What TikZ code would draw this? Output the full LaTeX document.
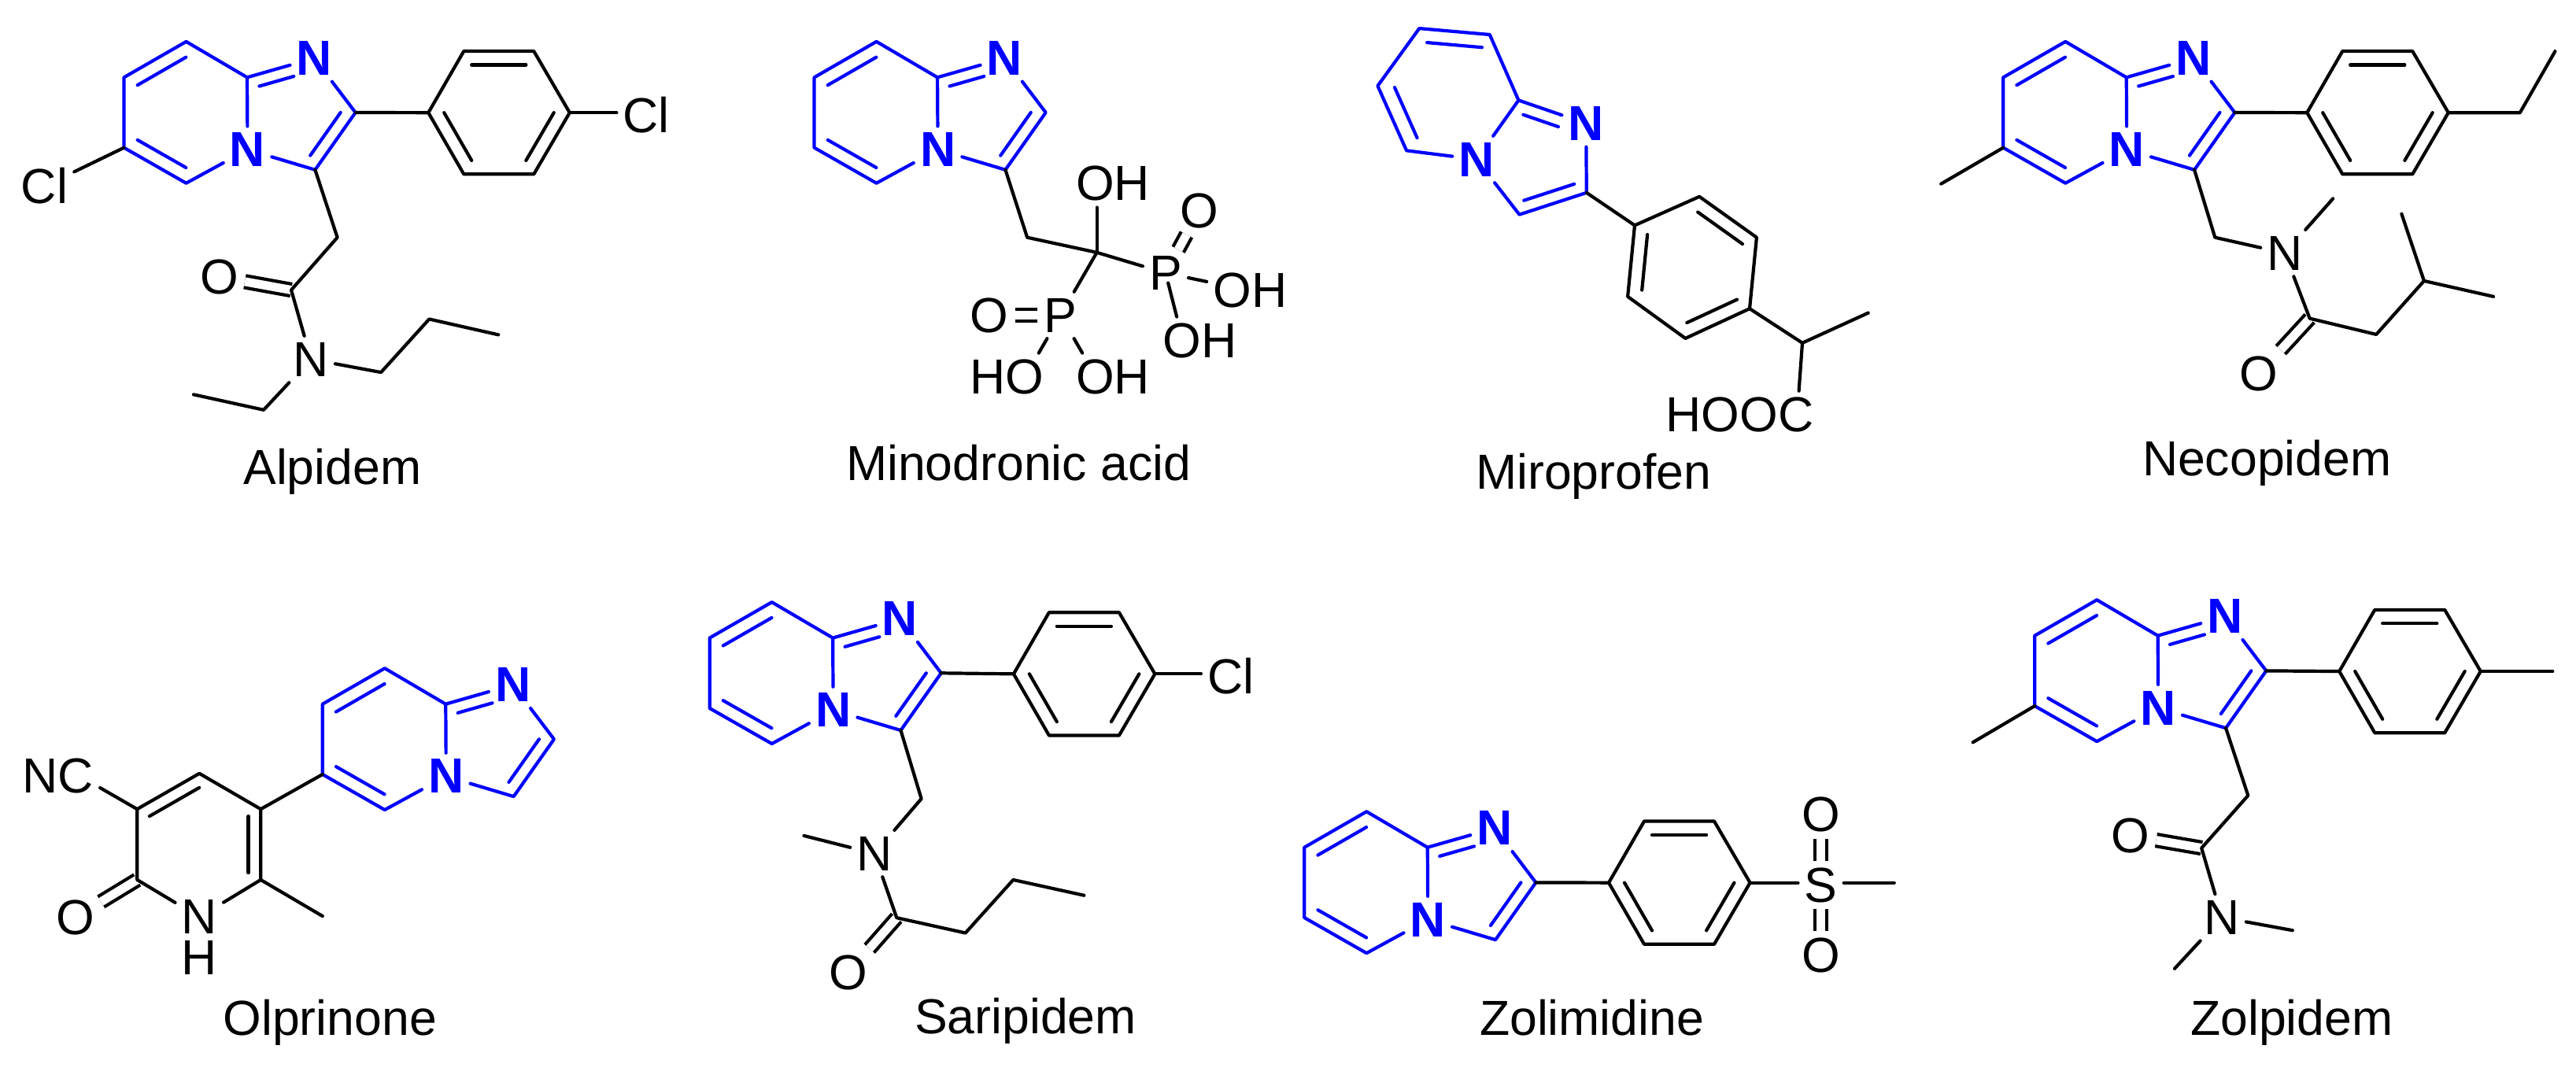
\documentclass[tikz,border=0pt]{standalone}
\usepackage{fontspec}
\setmainfont{Liberation Sans}
\usetikzlibrary{calc}
\newcommand{\imidazo}[3]{%
\begin{scope}[shift={(#2,#3)},x=.00523cm,y=-.00414cm]
\coordinate (#1_c5) at (-148,-110);
\coordinate (#1_c6) at (-299,0);
\coordinate (#1_c7) at (-299,216);
\coordinate (#1_c8) at (-148,325);
\coordinate (#1_c9) at (0,0);
\coordinate (#1_c2) at (263,108);
\coordinate (#1_c3) at (165,284);
\coordinate (#1_py) at (-150,108);
\coordinate (#1_im) at (118,108);
\node[hetero] (#1_n1) at (163,-59) {N};
\node[hetero] (#1_n4) at (1,222) {N};
\draw[corebond] (#1_c9) -- (#1_c5) -- (#1_c6) -- (#1_c7) -- (#1_c8) -- (#1_n4) -- (#1_c9) -- (#1_n1) -- (#1_c2) -- (#1_c3) -- (#1_n4);
\draw[corebond] ($(#1_c5)!.22!(#1_py)$) -- ($(#1_c6)!.22!(#1_py)$);
\draw[corebond] ($(#1_c7)!.22!(#1_py)$) -- ($(#1_c8)!.22!(#1_py)$);
\draw[corebond] ($(#1_c2)!.25!(#1_im)$) -- ($(#1_c3)!.25!(#1_im)$);
\draw[corebond,shorten >=.21cm] ($(#1_c9)!.25!(#1_im)$) -- ($(#1_n1)!.25!(#1_im)$);
\end{scope}}
\newcommand{\phenyl}[3]{%
\begin{scope}[shift={(#2,#3)},x=.00523cm,y=-.00414cm]
\coordinate (#1_p1) at (-171,0);
\coordinate (#1_p2) at (-85,-189);
\coordinate (#1_p3) at (85,-189);
\coordinate (#1_p4) at (172,0);
\coordinate (#1_p5) at (85,189);
\coordinate (#1_p6) at (-85,189);
\coordinate (#1_pc) at (0,0);
\draw[bond] (#1_p1) -- (#1_p2) -- (#1_p3) -- (#1_p4) -- (#1_p5) -- (#1_p6) -- cycle;
\draw[bond] ($(#1_p2)!.223!(#1_pc)$) -- ($(#1_p3)!.223!(#1_pc)$);
\draw[bond] ($(#1_p1)!.223!(#1_pc)$) -- ($(#1_p6)!.223!(#1_pc)$);
\draw[bond] ($(#1_p4)!.223!(#1_pc)$) -- ($(#1_p5)!.223!(#1_pc)$);
\end{scope}}

\begin{document}
\begin{tikzpicture}
\tikzstyle{bond}=[line width=.042cm, line cap=round, line join=round, black]
\tikzstyle{corebond}=[bond, draw=blue]
\tikzstyle{dbl}=[line width=.042cm, black, double, double distance=.11cm]
\tikzstyle{atom}=[inner sep=.075cm, font=\fontsize{17.8}{21}\selectfont]
\tikzstyle{hetero}=[atom, text=blue, font=\fontsize{17.8}{21}\selectfont\bfseries]
\tikzstyle{drugname}=[anchor=base, inner sep=0pt, font=\fontsize{17.8}{21}\selectfont]
\tikzstyle{crop}=[x=.00523cm, y=-.004146cm]
\tikzstyle{cropb}=[x=.00523cm, y=-.00412cm]
\tikzstyle{cropr}=[x=.005184cm, y=-.004146cm]
\tikzstyle{cropbr}=[x=.005184cm, y=-.00412cm]
\useasboundingbox (0,0) rectangle (32.73,-13.66);

% top row
\begin{scope}[crop]
\imidazo{al}{600}{237}
\phenyl{al}{1211}{345}
\node[atom] (al_cl1) at (108,570) {Cl};
\node[atom] (al_cl2) at (1569,352) {Cl};
\node[atom] (al_o) at (532,848) {O};
\node[atom] (al_n) at (755,1100) {N};
\coordinate (al_a) at (819,727);
\coordinate (al_b) at (707,888);
\coordinate (al_d) at (925,1140);
\coordinate (al_e) at (1042,977);
\coordinate (al_f) at (1210,1025);
\coordinate (al_g) at (640,1255);
\coordinate (al_h) at (470,1208);
\draw[dbl] (al_b) -- (al_o);
\draw[bond] (al_c3) -- (al_a) -- (al_b) -- (al_n) -- (al_d) -- (al_e) -- (al_f);
\draw[bond] (al_n) -- (al_g) -- (al_h);
\draw[bond] (al_c2) -- (al_p1);
\draw[bond] (al_p4) -- (al_p4 -| al_cl2.west);
\draw[bond] (al_c7) -- (al_cl1);
\node[drugname] (al_name) at (807,1483) {Alpidem};
\end{scope}

\begin{scope}[crop,xshift=8.2cm]
\imidazo{mi}{709}{237}
\node[atom] (mi_oh1) at (1135,562) {OH};
\node[atom] (mi_p1) at (1263,836) {P};
\node[atom] (mi_p2) at (1008,965) {P};
\node[atom] (mi_o1) at (1345,645) {O};
\node[atom] (mi_o2) at (835,965) {O};
\node[atom] (mi_oh2) at (1468,890) {OH};
\node[atom] (mi_oh3) at (1346,1043) {OH};
\node[atom] (mi_ho) at (878,1154) {HO};
\node[atom] (mi_oh4) at (1135,1154) {OH};
\coordinate (mi_a) at (927,727);
\coordinate (mi_b) at (1096,773);
\draw[dbl] (mi_p1) -- (mi_o1);
\draw[dbl] (mi_p2) -- (mi_o2);
\draw[bond] (mi_c3) -- (mi_a) -- (mi_b) -- (mi_p1);
\draw[bond] (mi_b) -- (mi_p2);
\draw[bond] (mi_b) -- (mi_b |- mi_oh1.south);
\draw[bond] (mi_p1) -- (mi_oh2);
\draw[bond,shorten <=.13cm] (mi_p1.center) -- (mi_oh3.134);
\draw[bond] (mi_p2) -- (mi_ho.37);
\draw[bond] (mi_p2) -- (mi_oh4.142);
\node[drugname] (mi_name) at (906,1472) {Minodronic acid};
\end{scope}

\begin{scope}[crop,xshift=16.4cm]
\coordinate (mr_c5) at (312,87);
\coordinate (mr_c6) at (483,106);
\coordinate (mr_c7) at (211,263);
\coordinate (mr_c8) at (281,461);
\coordinate (mr_c9) at (553,307);
\coordinate (mr_c2) at (718,590);
\coordinate (mr_c3) at (555,657);
\coordinate (mr_py) at (398,284);
\coordinate (mr_im) at (599,484);
\node[hetero] (mr_n1) at (717,378) {N};
\node[hetero] (mr_n4) at (451,488) {N};
\draw[corebond] (mr_c9) -- (mr_c6) -- (mr_c5) -- (mr_c7) -- (mr_c8) -- (mr_n4) -- (mr_c9) -- (mr_n1) -- (mr_c2) -- (mr_c3) -- (mr_n4);
\draw[corebond] ($(mr_c6)!.22!(mr_py)$) -- ($(mr_c5)!.22!(mr_py)$);
\draw[corebond] ($(mr_c7)!.22!(mr_py)$) -- ($(mr_c8)!.22!(mr_py)$);
\draw[corebond] ($(mr_c2)!.25!(mr_im)$) -- ($(mr_c3)!.25!(mr_im)$);
\draw[corebond,shorten >=.21cm] ($(mr_c9)!.25!(mr_im)$) -- ($(mr_n1)!.25!(mr_im)$);
\coordinate (mr_p1) at (835,690);
\coordinate (mr_p2) at (992,602);
\coordinate (mr_p3) at (1131,727);
\coordinate (mr_p4) at (1114,945);
\coordinate (mr_p5) at (958,1036);
\coordinate (mr_p6) at (818,908);
\coordinate (mr_pc) at (975,818);
\draw[bond] (mr_p1) -- (mr_p2) -- (mr_p3) -- (mr_p4) -- (mr_p5) -- (mr_p6) -- cycle;
\draw[bond] ($(mr_p2)!.22!(mr_pc)$) -- ($(mr_p3)!.22!(mr_pc)$);
\draw[bond] ($(mr_p1)!.22!(mr_pc)$) -- ($(mr_p6)!.22!(mr_pc)$);
\draw[bond] ($(mr_p4)!.22!(mr_pc)$) -- ($(mr_p5)!.22!(mr_pc)$);
\node[atom] (mr_hooc) at (1090,1270) {HOOC};
\coordinate (mr_a) at (1242,1050);
\coordinate (mr_b) at (1402,958);
\draw[bond] (mr_c2) -- (mr_p1);
\draw[bond] (mr_p4) -- (mr_a) -- (mr_b);
\draw[bond] (mr_a) -- (mr_hooc.22);
\node[drugname] (mr_name) at (735,1497) {Miroprofen};
\end{scope}

\begin{scope}[cropr,xshift=24.6cm]
\imidazo{ne}{466}{237}
\phenyl{ne}{1081}{345}
\node[atom] (ne_n) at (854,775) {N};
\node[atom] (ne_o) at (790,1145) {O};
\coordinate (ne_me) at (12,563);
\coordinate (ne_a) at (1430,345);
\coordinate (ne_b) at (1516,157);
\coordinate (ne_c) at (683,727);
\coordinate (ne_d) at (972,608);
\coordinate (ne_e) at (915,975);
\coordinate (ne_f) at (1078,1024);
\coordinate (ne_g) at (1195,860);
\coordinate (ne_h) at (1365,908);
\coordinate (ne_i) at (1140,655);
\draw[dbl] (ne_e) -- (ne_o);
\draw[bond] (ne_c7) -- (ne_me);
\draw[bond] (ne_c2) -- (ne_p1);
\draw[bond] (ne_p4) -- (ne_a) -- (ne_b);
\draw[bond] (ne_c3) -- (ne_c) -- (ne_n) -- (ne_d);
\draw[bond] (ne_n) -- (ne_e) -- (ne_f) -- (ne_g) -- (ne_h);
\draw[bond] (ne_g) -- (ne_i);
\node[drugname] (ne_name) at (810,1457) {Necopidem};
\end{scope}

% bottom row
\begin{scope}[cropb,yshift=-7.2cm]
\imidazo{ol}{1082}{424}
\coordinate (ol_r1) at (633,748);
\coordinate (ol_r2) at (484,638);
\coordinate (ol_r3) at (333,748);
\coordinate (ol_r4) at (333,966);
\coordinate (ol_r6) at (633,966);
\coordinate (ol_rc) at (483,857);
\coordinate (ol_me) at (783,1078);
\node[atom] (ol_n) at (484,1081) {N};
\node[atom] (ol_h) at (484,1207) {H};
\node[atom] (ol_nc) at (141,645) {NC};
\node[atom] (ol_o) at (183,1082) {O};
\draw[dbl] (ol_r4) -- (ol_o);
\draw[bond] (ol_r6) -- (ol_r1) -- (ol_r2) -- (ol_r3) -- (ol_r4) -- (ol_n) -- (ol_r6);
\draw[bond] ($(ol_r2)!.2!(ol_rc)$) -- ($(ol_r3)!.2!(ol_rc)$);
\draw[bond] ($(ol_r1)!.2!(ol_rc)$) -- ($(ol_r6)!.2!(ol_rc)$);
\draw[bond] (ol_r3) -- (ol_nc.344);
\draw[bond] (ol_r6) -- (ol_me);
\draw[bond] (ol_r1) -- (ol_c7);
\node[drugname] (ol_name) at (801,1445) {Olprinone};
\end{scope}

\begin{scope}[cropb,xshift=8.2cm,yshift=-7.2cm]
\imidazo{sa}{455}{220}
\phenyl{sa}{1065}{331}
\node[atom] (sa_cl) at (1421,338) {Cl};
\node[atom] (sa_n) at (556,885) {N};
\node[atom] (sa_o) at (493,1252) {O};
\coordinate (sa_a) at (670,716);
\coordinate (sa_b) at (385,830);
\coordinate (sa_c) at (610,1083);
\coordinate (sa_d) at (777,1130);
\coordinate (sa_e) at (893,966);
\coordinate (sa_f) at (1065,1014);
\draw[dbl] (sa_c) -- (sa_o);
\draw[bond] (sa_c2) -- (sa_p1);
\draw[bond] (sa_p4) -- (sa_p4 -| sa_cl.west);
\draw[bond] (sa_c3) -- (sa_a) -- (sa_n) -- (sa_b);
\draw[bond] (sa_n) -- (sa_c) -- (sa_d) -- (sa_e) -- (sa_f);
\node[drugname] (sa_name) at (923,1440) {Saripidem};
\end{scope}

\begin{scope}[cropb,xshift=16.4cm,yshift=-7.2cm]
\imidazo{zo}{332}{866}
\phenyl{zo}{943}{975}
\node[atom] (zo_s) at (1287,982) {S};
\node[atom] (zo_o1) at (1287,765) {O};
\node[atom] (zo_o2) at (1287,1198) {O};
\coordinate (zo_me) at (1465,975);
\draw[dbl] (zo_s) -- (zo_o1);
\draw[dbl] (zo_s) -- (zo_o2);
\draw[bond] (zo_c2) -- (zo_p1);
\draw[bond] (zo_p4) -- (zo_p4 -| zo_s.west);
\draw[bond] (zo_me -| zo_s.east) -- (zo_me);
\node[drugname] (zo_name) at (731,1445) {Zolimidine};
\end{scope}

\begin{scope}[cropbr,xshift=24.6cm,yshift=-7.2cm]
\imidazo{zp}{543}{213}
\phenyl{zp}{1160}{323}
\node[atom] (zp_o) at (476,830) {O};
\node[atom] (zp_n) at (700,1082) {N};
\coordinate (zp_me1) at (90,542);
\coordinate (zp_me2) at (1510,323);
\coordinate (zp_a) at (764,706);
\coordinate (zp_b) at (650,868);
\coordinate (zp_c) at (873,1122);
\coordinate (zp_d) at (584,1240);
\draw[dbl] (zp_b) -- (zp_o);
\draw[bond] (zp_c7) -- (zp_me1);
\draw[bond] (zp_c2) -- (zp_p1);
\draw[bond] (zp_p4) -- (zp_me2);
\draw[bond] (zp_c3) -- (zp_a) -- (zp_b) -- (zp_n) -- (zp_c);
\draw[bond] (zp_n) -- (zp_d);
\node[drugname] (zp_name) at (871,1445) {Zolpidem};
\end{scope}
\end{tikzpicture}
\end{document}
